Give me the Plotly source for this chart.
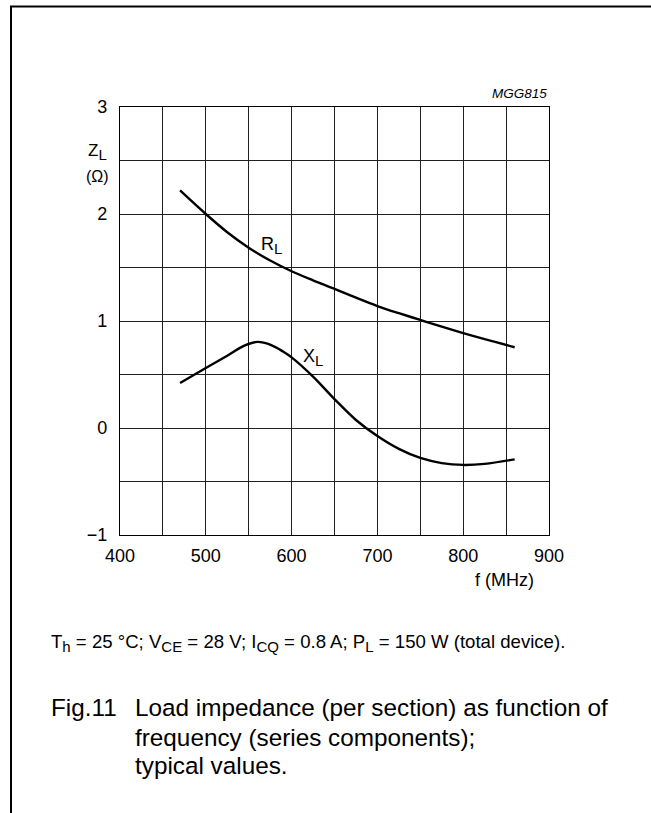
import plotly.graph_objects as go

# ---- data ----
r_freq = [470, 500, 525, 550, 575, 600, 625, 650, 675, 700, 725, 750, 775, 800, 825, 860]
r_vals = [2.22, 2.00, 1.83, 1.685, 1.565, 1.465, 1.38, 1.30, 1.218, 1.14, 1.073, 1.01, 0.947, 0.887, 0.83, 0.755]

x_freq = [470, 500, 525, 545, 560, 575, 590, 600, 625, 650, 675, 700, 725, 750, 775, 800, 825, 860]
x_vals = [0.42, 0.56, 0.675, 0.77, 0.805, 0.78, 0.715, 0.66, 0.48, 0.27, 0.075, -0.075, -0.195,
          -0.28, -0.328, -0.345, -0.335, -0.293]

x_tickvals = [400, 500, 600, 700, 800, 900]
y_tickvals = [-1, 0, 1, 2, 3]
x_grid_step = 50
y_grid_step = 0.5

W, H = 651, 813
L, R, T, B = 120, 549, 107, 535
FONT = "Liberation Sans, Arial, sans-serif"


def px(x):
    return (x - L) / (R - L)


def py(y):
    return (B - y) / (B - T)


fig = go.Figure()
for fx, fy in ((r_freq, r_vals), (x_freq, x_vals)):
    fig.add_trace(go.Scatter(x=fx, y=fy, mode="lines",
                             line=dict(color="black", width=2.4, shape="spline", smoothing=1.0),
                             hoverinfo="skip", showlegend=False))

axis_common = dict(showgrid=True, gridcolor="#202020", gridwidth=1,
                   showline=True, linecolor="black", linewidth=1.2, mirror=True,
                   zeroline=False, ticks="", automargin=False,
                   tickfont=dict(family=FONT, size=18, color="black"),
                   fixedrange=True)

fig.update_xaxes(range=[400, 900], tickmode="array", tickvals=x_tickvals,
                 ticklabelstandoff=4,
                 minor=dict(dtick=x_grid_step, showgrid=True, gridcolor="#202020", gridwidth=1, ticks=""),
                 **axis_common)
fig.update_yaxes(range=[-1, 3], tickmode="array", tickvals=y_tickvals,
                 ticklabelstandoff=8,
                 minor=dict(dtick=y_grid_step, showgrid=True, gridcolor="#202020", gridwidth=1, ticks=""),
                 **axis_common)

ann = []


def text(x, y, s, size, xanchor="center", yanchor="middle", italic=False):
    ann.append(dict(x=px(x), y=py(y), xref="paper", yref="paper", text=s,
                    showarrow=False, xanchor=xanchor, yanchor=yanchor,
                    font=dict(family=FONT, size=size, color="black",
                              style="italic" if italic else "normal")))


def sub(s, size):
    return '<sub><span style="font-size:%dpx">%s</span></sub>' % (size, s)


text(549, 94, "MGG815", 13.5, xanchor="right", italic=True)
text(97, 152, "Z" + sub("L", 15), 17)
text(97.5, 176, "(\u03a9)", 16)
text(271, 245, "R" + sub("L", 15), 18)
text(313, 357, "X" + sub("L", 15), 18)
text(536, 580, "f (MHz)", 18, xanchor="right")
text(49, 643, "T" + sub("h", 15) + " = 25 \u00b0C; V" + sub("CE", 15) + " = 28 V; I" + sub("CQ", 15)
     + " = 0.8 A; P" + sub("L", 15) + " = 150 W (total device).", 18.6, xanchor="left")
text(49, 707, "Fig.11", 24.3, xanchor="left")
text(133, 707, "Load impedance (per section) as function of", 24.3, xanchor="left")
text(133, 737, "frequency (series components);", 24.3, xanchor="left")
text(133, 765, "typical values.", 24.3, xanchor="left")

shapes = [
    dict(type="line", xref="paper", yref="paper", x0=px(10), x1=px(W), y0=py(6.5), y1=py(6.5),
         line=dict(color="black", width=2)),
    dict(type="line", xref="paper", yref="paper", x0=px(11), x1=px(11), y0=py(6.5), y1=py(H),
         line=dict(color="black", width=2)),
]

fig.update_layout(width=W, height=H, margin=dict(l=L, r=W - R, t=T, b=H - B, pad=0, autoexpand=False),
                  paper_bgcolor="white", plot_bgcolor="white",
                  annotations=ann, shapes=shapes, showlegend=False,
                  font=dict(family=FONT, color="black"))

fig.write_html("out.html", config={"displayModeBar": False, "staticPlot": True},
               post_script="document.body.style.margin='0';document.body.style.padding='0';"
                           "document.body.style.overflow='hidden';")
